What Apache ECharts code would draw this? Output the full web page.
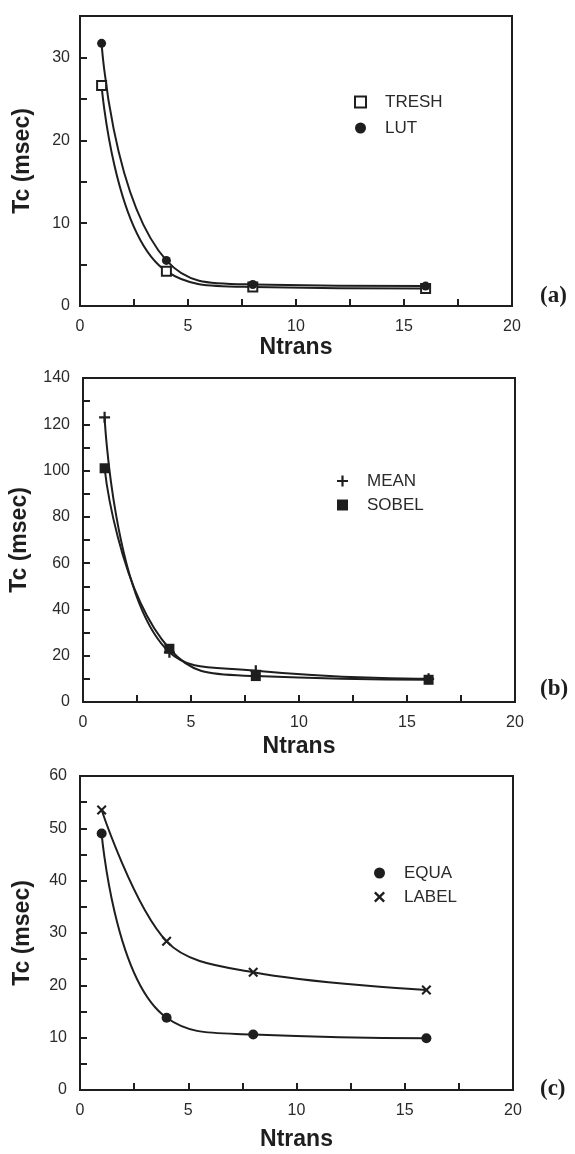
<!DOCTYPE html>
<html>
<head>
<meta charset="utf-8">
<script src="https://cdn.jsdelivr.net/npm/echarts@6/dist/echarts.min.js"></script>
<style>
html,body{margin:0;padding:0;background:#fff;}
#chart{width:575px;height:1154px;}
</style>
</head>
<body>
<div id="chart"></div>
<script>
// ---- data ----
const ntrans = [1, 4, 8, 16];
const treshTc = [26.6, 4.2, 2.3, 2.1];
const lutTc   = [31.7, 5.5, 2.6, 2.4];
const meanTc  = [123, 21.5, 13.5, 10];
const sobelTc = [101, 23, 11.2, 9.6];
const equaTc  = [49, 13.8, 10.6, 9.9];
const labelTc = [53.5, 28.4, 22.5, 19.1];
const panelTags = ['(a)', '(b)', '(c)'];
const xTitle = 'Ntrans';
const yTitle = 'Tc (msec)';

const INK = '#1e1e1e';
const TXT = '#2a2a2a';
const SANS = '"Liberation Sans", Arial, sans-serif';
const PLUS = 'path://M4,0 L6,0 L6,4 L10,4 L10,6 L6,6 L6,10 L4,10 L4,6 L0,6 L0,4 L4,4 Z';
const CROSS = 'path://M0,1.5 L1.5,0 L5,3.5 L8.5,0 L10,1.5 L6.5,5 L10,8.5 L8.5,10 L5,6.5 L1.5,10 L0,8.5 L3.5,5 Z';

const pairs = (ys) => ntrans.map((x, i) => [x, ys[i]]);

const grids = [
  {left: 80, top: 16, width: 432, height: 290},
  {left: 82, top: 378, width: 433, height: 324},
  {left: 80, top: 776, width: 433, height: 314}
];
const yCfg = [
  {max: 35, interval: 5, show: v => v % 10 === 0, nameGap: 46, labelMargin: 10},
  {max: 140, interval: 10, show: v => v % 20 === 0, nameGap: 52, labelMargin: 13},
  {max: 60, interval: 5, show: v => v % 10 === 0, nameGap: 46, labelMargin: 13}
];
const xNameGap = [30, 33, 38];

const xAxes = grids.map((g, i) => ({
  type: 'value', gridIndex: i, min: 0, max: 20, interval: 2.5,
  name: xTitle, nameLocation: 'middle', nameGap: xNameGap[i],
  nameTextStyle: {fontFamily: SANS, fontWeight: 'bold', fontSize: 23, color: INK},
  axisLine: {show: true, onZero: false, lineStyle: {color: INK, width: 2}},
  axisTick: {show: true, inside: true, length: 7, lineStyle: {color: INK, width: 2}},
  splitLine: {show: false},
  axisLabel: {
    margin: 13, fontFamily: SANS, fontSize: 16, color: TXT,
    formatter: v => (v % 5 === 0 ? String(v) : '')
  }
}));

const yAxes = grids.map((g, i) => ({
  type: 'value', gridIndex: i, min: 0, max: yCfg[i].max, interval: yCfg[i].interval,
  name: yTitle, nameLocation: 'middle', nameGap: yCfg[i].nameGap, nameRotate: 90,
  nameTextStyle: {fontFamily: SANS, fontWeight: 'bold', fontSize: 23, color: INK},
  axisLine: {show: true, onZero: false, lineStyle: {color: INK, width: 2}},
  axisTick: {show: true, inside: true, length: 7, lineStyle: {color: INK, width: 2}},
  splitLine: {show: false},
  axisLabel: {
    margin: yCfg[i].labelMargin, fontFamily: SANS, fontSize: 16, color: TXT,
    formatter: v => (yCfg[i].show(v) ? String(v) : '')
  }
}));

function lineSeries(name, ys, idx, symbol, size, item, smooth) {
  return {
    name, type: 'line', xAxisIndex: idx, yAxisIndex: idx,
    data: pairs(ys), smooth: smooth || 0.5,
    symbol, symbolSize: size, showSymbol: true,
    lineStyle: {color: INK, width: 2},
    itemStyle: Object.assign({color: INK, opacity: 1}, item || {}),
    emphasis: {disabled: true}, animation: false, z: 3
  };
}

const series = [
  lineSeries('TRESH', treshTc, 0, 'rect', 9, {color: '#ffffff', borderColor: INK, borderWidth: 2}),
  lineSeries('LUT', lutTc, 0, 'circle', 9),
  lineSeries('MEAN', meanTc, 1, PLUS, 11),
  lineSeries('SOBEL', sobelTc, 1, 'rect', 10),
  lineSeries('EQUA', equaTc, 2, 'circle', 10),
  lineSeries('LABEL', labelTc, 2, CROSS, 10, null, 0.35)
];

const legendBase = {
  orient: 'vertical', itemWidth: 11, itemHeight: 11, itemGap: 6,
  textStyle: {fontFamily: SANS, fontSize: 17, color: TXT, lineHeight: 20, padding: [0, 0, 0, 14]},
  selectedMode: false, inactiveColor: INK
};
const legends = [
  Object.assign({}, legendBase, {left: 349, top: 87, data: [{name: 'TRESH', icon: 'rect'}, {name: 'LUT', icon: 'circle'}]}),
  Object.assign({}, legendBase, {left: 332, top: 466, itemGap: 4, data: [{name: 'MEAN', icon: PLUS}, {name: 'SOBEL', icon: 'rect'}]}),
  Object.assign({}, legendBase, {left: 369, top: 858, itemGap: 4, data: [{name: 'EQUA', icon: 'circle'}, {name: 'LABEL', icon: CROSS}]})
];

const tagY = [297, 690, 1090];
const graphic = panelTags.map((t, i) => ({
  type: 'text', left: 540, top: tagY[i] - 12,
  style: {text: t, font: 'bold 23px "Liberation Serif", "Times New Roman", serif', fill: INK}
}));

const chart = echarts.init(document.getElementById('chart'), null, {renderer: 'canvas'});
chart.setOption({
  backgroundColor: '#ffffff',
  animation: false,
  grid: grids.map(g => Object.assign({show: true, borderColor: INK, borderWidth: 2, backgroundColor: 'transparent', containLabel: false}, g)),
  xAxis: xAxes,
  yAxis: yAxes,
  legend: legends,
  series,
  graphic
});
</script>
</body>
</html>
